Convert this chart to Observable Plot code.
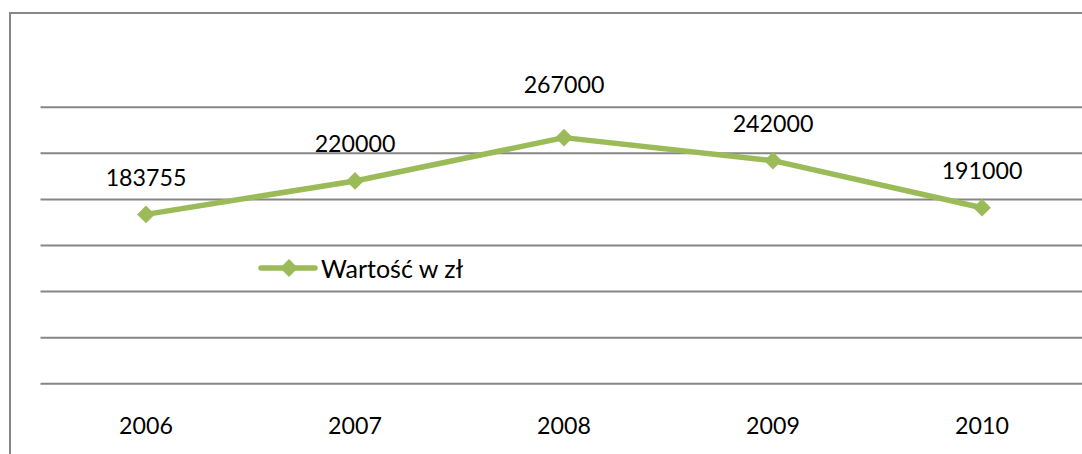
<!DOCTYPE html>
<html>
<head>
<meta charset="utf-8">
<script src="https://cdn.jsdelivr.net/npm/d3@7"></script>
<script src="https://cdn.jsdelivr.net/npm/@observablehq/plot@0.6"></script>
<style>
  html, body { margin: 0; padding: 0; background: #fff; overflow: hidden; }
  #wrap { position: relative; width: 1082px; height: 454px; }
  #frame { position: absolute; left: 8.5px; top: 11.5px; width: 1200px; height: 600px;
           border-left: 2.5px solid #878787; border-top: 2px solid #878787; pointer-events: none; }
  #legend { position: absolute; left: 258px; top: 250px; display: flex; align-items: center;
            font-family: Lato, sans-serif; font-size: 25px; color: #000; }
  #legend svg { display: block; }
</style>
</head>
<body>
<div id="wrap">
  <div id="chart"></div>
  <div id="frame"></div>
  <div id="legend"></div>
</div>
<script>
const years = ["2006", "2007", "2008", "2009", "2010"];
const values = [183755, 220000, 267000, 242000, 191000];
const gridValues = [0, 50000, 100000, 150000, 200000, 250000, 300000];
const seriesName = "Wartość w zł";

const green = "#9BBB59";
const data = years.map((year, i) => ({year, value: values[i]}));

const chart = Plot.plot({
  width: 1082,
  height: 454,
  marginLeft: 40.5,
  marginRight: -5,
  marginTop: 106.7,
  marginBottom: 70.7,
  x: {type: "band", domain: years, padding: 0, axis: null},
  y: {domain: [0, 300000], axis: null},
  style: {fontFamily: "Lato, sans-serif", fontSize: "23.2px", background: "transparent", color: "#000"},
  marks: [
    Plot.ruleY(gridValues, {stroke: "#868686", strokeWidth: 2}),
    Plot.line(data, {x: "year", y: "value", stroke: green, strokeWidth: 5.5}),
    Plot.dot(data, {x: "year", y: "value", symbol: "diamond2", r: 8, fill: green, stroke: null}),
    Plot.text(data.filter(d => d.year !== "2008"), {x: "year", y: "value", text: d => String(d.value), dy: -36, lineAnchor: "middle", fill: "#000"}),
    Plot.text(data.filter(d => d.year === "2008"), {x: "year", y: "value", text: d => String(d.value), dy: -52, lineAnchor: "middle", fill: "#000"}),
    Plot.text(years, {x: d => d, frameAnchor: "bottom", dy: 43, lineAnchor: "middle", fill: "#000"})
  ]
});
document.getElementById("chart").appendChild(chart);

// legend
const legend = document.getElementById("legend");
const ns = "http://www.w3.org/2000/svg";
const ls = document.createElementNS(ns, "svg");
ls.setAttribute("width", 60);
ls.setAttribute("height", 36);
const ln = document.createElementNS(ns, "line");
ln.setAttribute("x1", 3); ln.setAttribute("x2", 57);
ln.setAttribute("y1", 18); ln.setAttribute("y2", 18);
ln.setAttribute("stroke", green); ln.setAttribute("stroke-width", 5.5);
ln.setAttribute("stroke-linecap", "round");
ls.appendChild(ln);
const dm = document.createElementNS(ns, "path");
dm.setAttribute("d", d3.symbol(d3.symbolDiamond2, Math.PI * 64)());
dm.setAttribute("transform", "translate(31,18)");
dm.setAttribute("fill", green);
ls.appendChild(dm);
legend.appendChild(ls);
const lt = document.createElement("span");
lt.textContent = seriesName;
lt.style.marginLeft = "3px";
legend.appendChild(lt);
</script>
</body>
</html>
